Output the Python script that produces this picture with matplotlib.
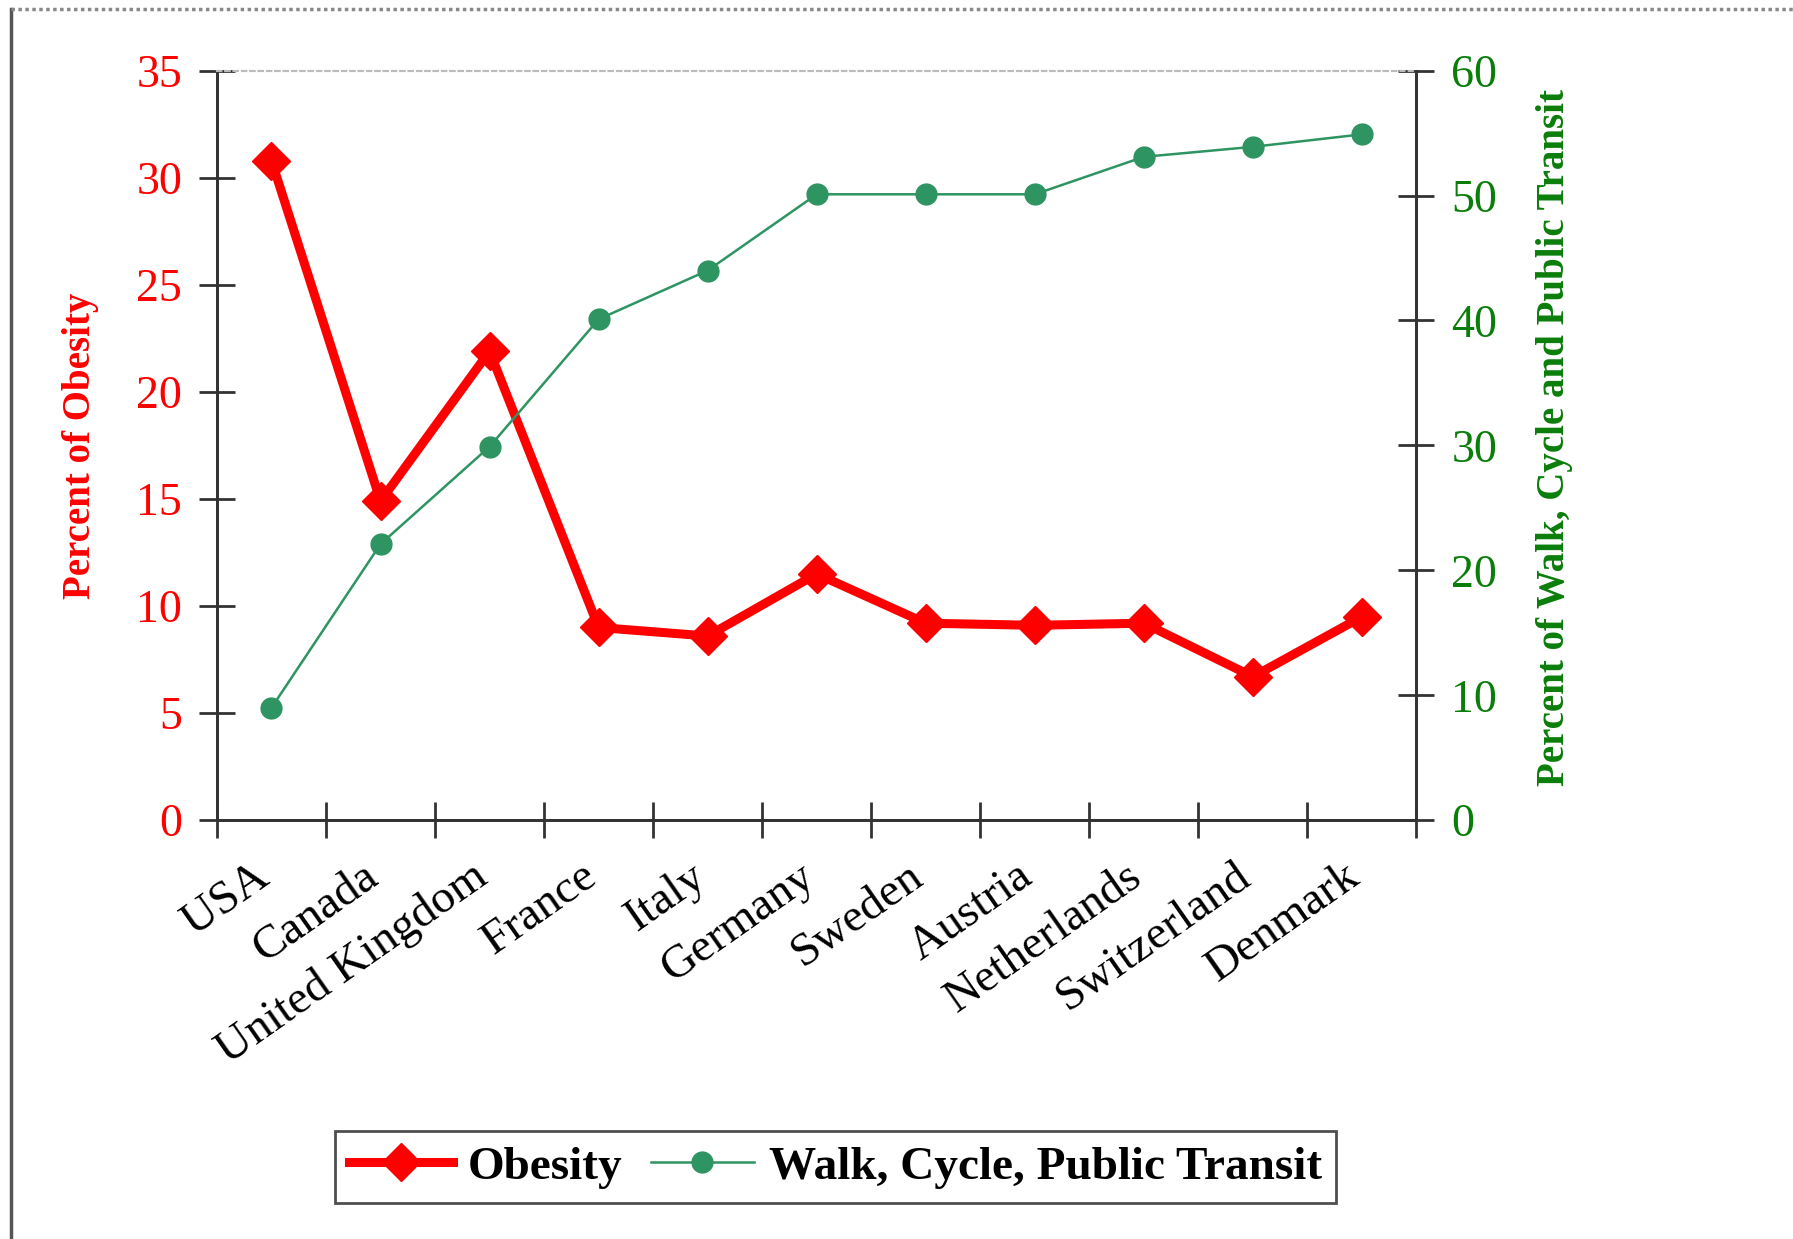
import numpy as np
import matplotlib.pyplot as plt
from matplotlib.lines import Line2D

# datos
paises = ["USA", "Canada", "United Kingdom", "France", "Italy", "Germany",
          "Sweden", "Austria", "Netherlands", "Switzerland", "Denmark"]
obesidad = [30.8, 14.9, 21.9, 9.0, 8.6, 11.5, 9.2, 9.1, 9.2, 6.7, 9.5]
transporte = [9.0, 22.1, 29.9, 40.1, 44.0, 50.1, 50.1, 50.1, 53.1, 53.9, 54.9]

serif = "Liberation Serif"
rojo = "#ff0000"
verde_txt = "#0a7d0a"
verde = "#2e9461"

fig = plt.figure(figsize=(17.93, 12.39), dpi=100)
ax = fig.add_axes([0.121, 0.338, 0.669, 0.605])
ax2 = ax.twinx()

x = np.arange(len(paises))
ax.plot(x, obesidad, color=rojo, lw=6.5, marker="D", markersize=19,
        label="Obesity", zorder=3)
ax2.plot(x, transporte, color=verde, lw=1.8, marker="o", markersize=15,
         label="Walk, Cycle, Public Transit", zorder=2)

ax.set_xlim(-0.5, len(paises) - 0.5)
ax.set_ylim(0, 35)
ax2.set_ylim(0, 60)
ax.set_yticks(np.arange(0, 36, 5))
ax2.set_yticks(np.arange(0, 61, 10))

# ticks del eje x en los limites entre categorias
ax.set_xticks(np.arange(-0.5, len(paises), 1.0))
ax.set_xticklabels([])
ax.set_xticks(x - 0.17, minor=True)
ax.set_xticklabels(paises, minor=True, rotation=35, ha="right",
                   rotation_mode="anchor", fontfamily=serif, fontsize=34)
ax.tick_params(axis="x", which="minor", length=0, pad=25)
ax.tick_params(axis="x", which="major", direction="inout", length=26,
               width=2, color="#333333")

ax.tick_params(axis="y", direction="inout", length=26, width=2,
               color="#333333", labelcolor=rojo, labelsize=33, pad=12)
ax2.tick_params(axis="y", direction="inout", length=26, width=2,
                color="#333333", labelcolor=verde_txt, labelsize=33, pad=12)
for lab in ax.get_yticklabels() + ax2.get_yticklabels():
    lab.set_fontfamily(serif)

for a in (ax, ax2):
    a.spines["top"].set_color("#bbbbbb")
    a.spines["top"].set_linestyle((0, (2, 2)))
    a.spines["top"].set_linewidth(1.5)
    for s in ("left", "right", "bottom"):
        a.spines[s].set_color("#333333")
        a.spines[s].set_linewidth(2)

ax.set_ylabel("Percent of Obesity", color=rojo, fontfamily=serif, fontsize=28,
              fontweight="bold")
ax.yaxis.set_label_coords(-0.098, 0.5)
ax2.set_ylabel("Percent of Walk, Cycle and Public Transit", color=verde_txt,
               fontfamily=serif, fontsize=28, fontweight="bold")
ax2.yaxis.set_label_coords(1.1, 0.51)

h1, l1 = ax.get_legend_handles_labels()
h2, l2 = ax2.get_legend_handles_labels()
leg = fig.legend(h1 + h2, l1 + l2, loc="center", bbox_to_anchor=(0.466, 0.058),
                 ncol=2, frameon=True, fancybox=False, handlelength=2.2,
                 columnspacing=0.6, handletextpad=0.3, borderpad=0.3,
                 prop={"family": serif, "weight": "bold", "size": 34})
leg.get_frame().set_edgecolor("#222222")
leg.get_frame().set_linewidth(2)

# marco de la figura (solo izquierda y arriba)
fig.add_artist(Line2D([0.006, 0.006], [0.0, 0.993], color="#555555", lw=2.5,
                      transform=fig.transFigure))
fig.add_artist(Line2D([0.006, 1.0], [0.993, 0.993], color="#888888", lw=2.5,
                      ls=(0, (1, 1)), transform=fig.transFigure))

fig.savefig("out.png", dpi=100)
